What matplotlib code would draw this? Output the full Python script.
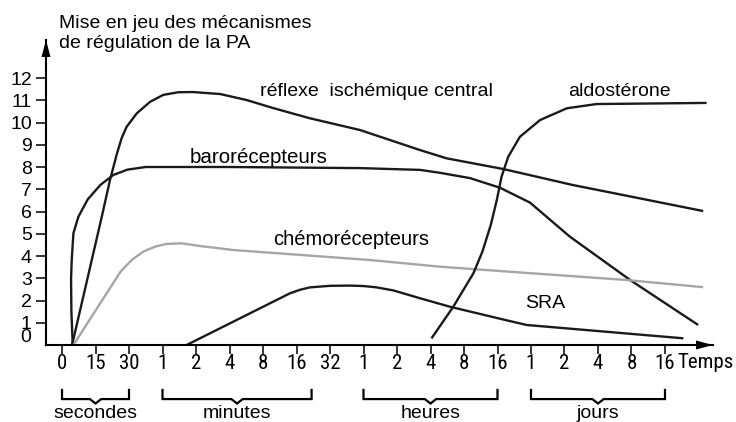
import matplotlib
matplotlib.use('Agg')
import matplotlib.pyplot as plt
from matplotlib import font_manager
from matplotlib.font_manager import FontProperties

# ---------------- data ----------------
tick_labels = ['0', '15', '30', '1', '2', '4', '8', '16', '32',
               '1', '2', '4', '8', '16', '1', '2', '4', '8', '16']
y_ticks = list(range(1, 13))

reflexe_x = [0.3, 1.185, 1.43, 1.63, 1.78, 1.93, 2.23, 2.63, 3.02, 3.47, 3.9, 4.72, 5.51, 6.3, 7.4, 8.9,
             10.69, 11.48, 13.17, 15.25, 17.25, 19.14]
reflexe_y = [0.0, 5.75, 7.4, 8.55, 9.3, 9.81, 10.41, 10.93, 11.24, 11.36, 11.37, 11.28, 11.01, 10.65, 10.19,
             9.66, 8.76, 8.39, 7.91, 7.19, 6.59, 6.02]

baro_x = [0.32, 0.28, 0.27, 0.29, 0.34, 0.49, 0.77, 1.15, 1.53, 1.95, 2.5, 5.0, 8.9, 10.69, 11.28, 12.18,
          13.07, 13.97, 15.16, 16.96, 18.99]
baro_y = [0.0, 1.5, 3.0, 3.82, 5.02, 5.77, 6.55, 7.2, 7.64, 7.88, 8.0, 8.0, 7.95, 7.87, 7.74, 7.5,
          7.07, 6.4, 4.87, 2.92, 0.9]

chemo_x = [0.34, 1.75, 2.08, 2.43, 2.78, 3.1, 3.57, 4.12, 5.1, 9.19, 11.28, 12.38, 16.86, 19.14]
chemo_y = [0.0, 3.3, 3.82, 4.2, 4.42, 4.54, 4.57, 4.45, 4.27, 3.82, 3.52, 3.4, 2.92, 2.6]

sra_x = [3.72, 6.8, 7.1, 7.4, 8.0, 8.6, 9.0, 9.39, 9.9, 10.69, 11.58, 13.3, 13.87, 18.55]
sra_y = [0.0, 2.32, 2.48, 2.59, 2.66, 2.67, 2.65, 2.59, 2.45, 2.1, 1.72, 1.1, 0.9, 0.3]

aldo_x = [11.03, 11.68, 12.28, 12.55, 12.8, 12.98, 13.12, 13.32, 13.67, 14.27, 15.07, 15.96, 16.66, 19.24]
aldo_y = [0.3, 1.72, 3.22, 4.2, 5.4, 6.52, 7.56, 8.46, 9.36, 10.11, 10.64, 10.83, 10.84, 10.88]

units = ['secondes', 'minutes', 'heures', 'jours']
unit_start = [0, 3, 9, 14]
unit_end = [2, 7.45, 13, 18]

# ---------------- fonts ----------------
avail = {f.name for f in font_manager.fontManager.ttflist}
SANS = 'Liberation Sans' if 'Liberation Sans' in avail else 'DejaVu Sans'
plt.rcParams['font.family'] = [SANS, 'DejaVu Sans']


def find_narrow():
    prefs = [('Liberation Sans Narrow', None), ('Arial Narrow', None),
             ('Roboto Condensed', None), ('Open Sans Condensed', None),
             ('DejaVu Sans', 'condensed')]
    for name, stretch in prefs:
        for f in font_manager.fontManager.ttflist:
            if f.name != name or f.style != 'normal':
                continue
            if f.weight not in (400, 'normal', 'regular', 'book'):
                continue
            if stretch is not None and f.stretch != stretch:
                continue
            return f.fname
    return None


_nf = find_narrow()


def narrow_props(size):
    if _nf:
        return FontProperties(fname=_nf, size=size)
    return FontProperties(family=SANS, size=size)


W, H = 736, 422
fig = plt.figure(figsize=(W / 100, H / 100), dpi=100)
ax = fig.add_axes([46 / W, (H - 345) / H, (713 - 46) / W, (345 - 40) / H])
ax.set_xlim(-0.478, 19.433)
ax.set_ylim(0, 13.708)

for s in ['top', 'right']:
    ax.spines[s].set_visible(False)
for s in ['left', 'bottom']:
    ax.spines[s].set_linewidth(1.5)
    ax.spines[s].set_color('black')

# arrow heads (axes fraction)
aw, ah = 713 - 46, 345 - 40
ax.fill([1, 1 - 17 / aw, 1 - 17 / aw], [0, 4.5 / ah, -4.5 / ah],
        transform=ax.transAxes, color='black', clip_on=False, lw=0)
ax.fill([0, -4.5 / aw, 4.5 / aw], [1, 1 - 17 / ah, 1 - 17 / ah],
        transform=ax.transAxes, color='black', clip_on=False, lw=0)

# ticks
xpos = list(range(len(tick_labels)))
ax.set_xticks(xpos)
ax.set_xticklabels([])
ax.tick_params(axis='x', length=6.5, width=1.1, direction='out')
xfp = narrow_props(15)
for xp, lab in zip(xpos, tick_labels):
    ax.text(xp, -1.1, lab, fontproperties=xfp, ha='center', va='baseline', clip_on=False)

ax.set_yticks(y_ticks)
ax.set_yticklabels([str(v) for v in y_ticks], fontsize=14)
ax.tick_params(axis='y', length=7.2, width=1.1, pad=3, direction='out')
ax.text(-0.93, 0.12, '0', ha='right', va='baseline', fontsize=14, clip_on=False)

# curves
lw = 1.7
kw = dict(lw=lw, solid_capstyle='butt', solid_joinstyle='round', clip_on=False)
ax.plot(reflexe_x, reflexe_y, color='#1a1a1a', **kw)
ax.plot(baro_x, baro_y, color='#1a1a1a', **kw)
ax.plot(chemo_x, chemo_y, color='#a6a6a6', **kw)
ax.plot(sra_x, sra_y, color='#1a1a1a', **kw)
ax.plot(aldo_x, aldo_y, color='#1a1a1a', **kw)

# curve labels
ax.text(5.91, 11.19, 'réflexe  ischémique central', fontsize=14, ha='left', va='baseline')
ax.text(15.1, 11.19, 'aldostérone', fontsize=14, ha='left', va='baseline')
ax.text(3.82, 8.2, 'barorécepteurs', fontsize=14.8, ha='left', va='baseline')
ax.text(6.3, 4.49, 'chémorécepteurs', fontsize=14.5, ha='left', va='baseline')
ax.text(13.82, 1.66, 'SRA', fontsize=14, ha='left', va='baseline')

# Temps
ax.text(18.36, -1.03, 'Temps', fontproperties=narrow_props(15),
        ha='left', va='baseline', clip_on=False)

# brackets
top, base, tip = -2.02, -2.43, -2.63
for name, x0, x1 in zip(units, unit_start, unit_end):
    xm = (x0 + x1) / 2
    ax.plot([x0, x0, xm - 0.17, xm, xm + 0.17, x1, x1],
            [top, base, base, tip, base, base, top],
            color='black', lw=1.6, clip_on=False, solid_joinstyle='miter')
    ax.text(xm, -3.3, name, fontsize=14, ha='center', va='baseline', clip_on=False)

# title
fig.text(59 / W, 1 - 28.3 / H, 'Mise en jeu des mécanismes', fontsize=14,
         ha='left', va='baseline')
fig.text(59 / W, 1 - 48 / H, 'de régulation de la PA', fontsize=14,
         ha='left', va='baseline')

fig.savefig('out.png', dpi=100)
